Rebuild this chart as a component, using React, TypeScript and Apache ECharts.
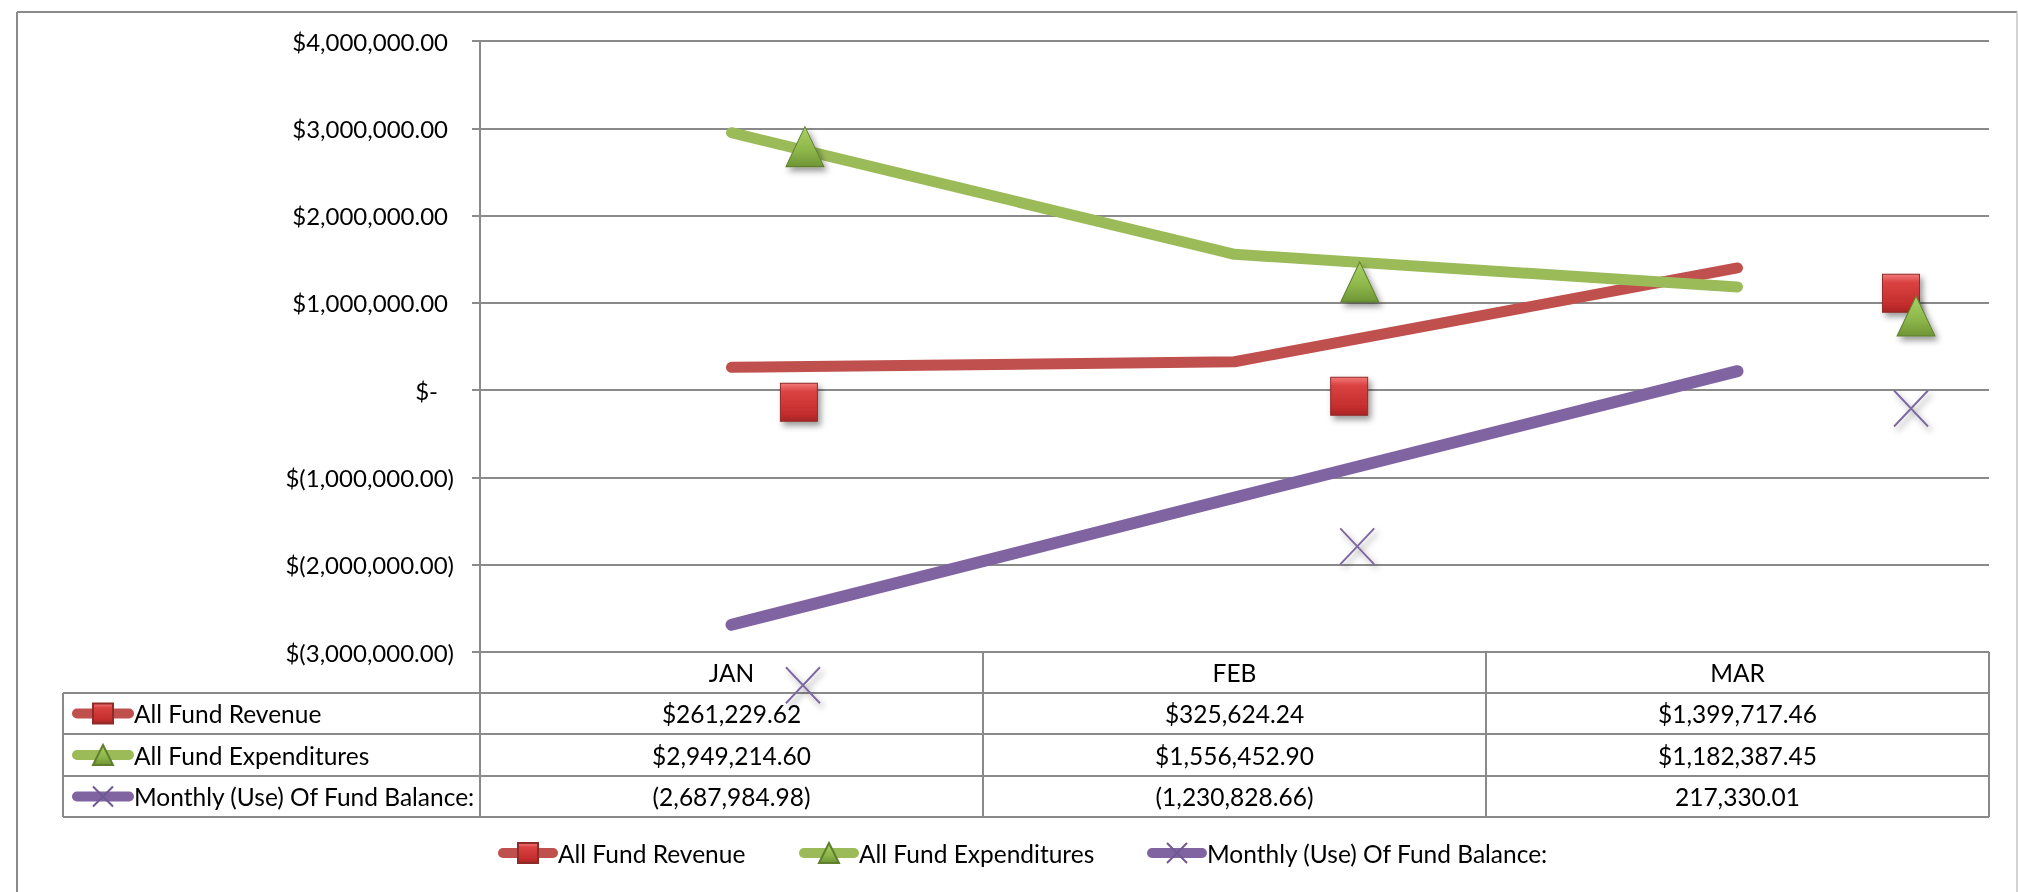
import React, { useEffect, useRef } from 'react';
import * as echarts from 'echarts';

// ---------- data ----------
const categories = ['JAN', 'FEB', 'MAR'];
const seriesNames = ['All Fund Revenue', 'All Fund Expenditures', 'Monthly (Use) Of Fund Balance:'];
const revenue = [261229.62, 325624.24, 1399717.46];
const expenditures = [2949214.6, 1556452.9, 1182387.45];
const balance = [-2687984.98, -1230828.66, 217330.01];

// y axis ticks
const yMin = -3000000;
const yMax = 4000000;
const yInterval = 1000000;

// markers as they appear in the picture (offset from the line vertices)
// x is in category units (0 = JAN centre, 1 = FEB centre, 2 = MAR centre)
const revMarkerX = [0.134, 1.228, 2.325];
const revMarkerY = [-140000, -70000, 1110000];
const expMarkerX = [0.146, 1.249, 2.355];
const expMarkerY = [2790000, 1240000, 850000];
const balMarkerX = [0.142, 1.244, 2.345];
const balMarkerY = [-3380000, -1790000, -210000];

// ---------- helpers ----------
const fmtNum = (n: number) => {
  const s = Math.abs(n).toFixed(2);
  const [i, d] = s.split('.');
  return i.replace(/\B(?=(\d{3})+(?!\d))/g, ',') + '.' + d;
};
const money = (n: number) => '$' + fmtNum(n);
const paren = (n: number) => (n < 0 ? '(' + fmtNum(n) + ')' : fmtNum(n));
const tableRows = [revenue.map(money), expenditures.map(money), balance.map(paren)];

const RED = '#C0504D';
const GREEN = '#9BBB59';
const PURPLE = '#8064A2';
const GRID = '#8A8A8A';
const FONT = 'Lato';
const FS = 24;
const FS_T = 24.5;

const redGrad = {
  type: 'linear', x: 0, y: 0, x2: 0, y2: 1,
  colorStops: [
    { offset: 0, color: '#F27A78' },
    { offset: 0.22, color: '#DA4242' },
    { offset: 0.8, color: '#C42D2D' },
    { offset: 1, color: '#A82424' },
  ],
};
const greenGrad = {
  type: 'linear', x: 0, y: 0, x2: 0, y2: 1,
  colorStops: [
    { offset: 0, color: '#A9D266' },
    { offset: 0.6, color: '#8DB64A' },
    { offset: 1, color: '#6F9536' },
  ],
};
const shadow = { shadowBlur: 6, shadowOffsetX: 3, shadowOffsetY: 4, shadowColor: 'rgba(0,0,0,0.4)' };

// layout
const GL = 480, GR = 29, GT = 41, GB = 240; // grid
const W = 2018;
const tableTop = 652;
const rowLines = [693, 734, 776, 817];
const tableLeft = 63;
const gridRight = W - GR;

export default function App() {
  const ref = useRef<HTMLDivElement>(null);
  useEffect(() => {
    if (!ref.current) return;
    const chart = echarts.init(ref.current, undefined, { renderer: 'svg' });
    const colW = (gridRight - GL) / categories.length;
    const lineEl = (x1: number, y1: number, x2: number, y2: number, color = GRID, w = 2) => ({
      type: 'line', silent: true, z: 1,
      shape: { x1, y1, x2, y2 },
      style: { stroke: color, lineWidth: w },
    });
    const graphics: any[] = [
      lineEl(17, 12, 2017, 12),
      lineEl(17, 12, 17, 892),
      lineEl(2017, 12, 2017, 892, '#C4C4C4', 1.5),
    ];
    rowLines.forEach((y) => graphics.push(lineEl(tableLeft, y, gridRight, y)));
    graphics.push(lineEl(tableLeft, rowLines[0], tableLeft, rowLines[3]));
    for (let i = 0; i <= categories.length; i++) {
      const x = GL + i * colW;
      graphics.push(lineEl(x, tableTop, x, rowLines[3]));
    }

    const labelCommon = { fontFamily: FONT, color: '#000', fontSize: FS_T };
    const catAxisBase = {
      type: 'category', position: 'bottom', boundaryGap: true,
      axisLine: { show: false, onZero: false }, axisTick: { show: false }, splitLine: { show: false },
    };
    const rowOffsets = [rowLines[0] - tableTop, rowLines[1] - tableTop, rowLines[2] - tableTop];

    const legendCommon = {
      padding: 0, itemHeight: 25, selectedMode: false,
      lineStyle: { width: 10, cap: 'round' },
      textStyle: { fontFamily: FONT, fontSize: FS_T, color: '#000', lineHeight: 25 },
    };

    chart.setOption({
      animation: false,
      textStyle: { fontFamily: FONT },
      grid: { left: GL, right: GR, top: GT, bottom: GB, containLabel: false },
      xAxis: [
        { ...catAxisBase, data: categories, axisLabel: { ...labelCommon, interval: 0, margin: 20.5, verticalAlign: 'middle' } },
        { type: 'value', min: -0.5, max: 2.5, show: false, axisLine: { show: false, onZero: false } },
        ...tableRows.map((r, i) => ({
          ...catAxisBase, data: r, offset: rowOffsets[i],
          axisLabel: { ...labelCommon, interval: 0, margin: i === 1 ? 21 : 20.5, verticalAlign: 'middle' },
        })),
      ],
      yAxis: {
        type: 'value', min: yMin, max: yMax, interval: yInterval,
        axisLine: { show: true, onZero: false, lineStyle: { color: GRID, width: 2 } },
        axisTick: { show: true, length: 8, lineStyle: { color: GRID, width: 2 } },
        splitLine: { show: true, lineStyle: { color: GRID, width: 2 } },
        axisLabel: {
          margin: 26, color: '#000', fontFamily: FONT, fontSize: FS,
          formatter: (v: number) => (v > 0 ? '{p|' + money(v) + '}' : v < 0 ? '{n|$(' + fmtNum(v) + ')}' : '{z|$-}'),
          rich: {
            p: { padding: [0, 6, 0, 0], fontSize: FS, fontFamily: FONT, color: '#000' },
            n: { fontSize: FS, fontFamily: FONT, color: '#000' },
            z: { padding: [0, 16, 0, 0], fontSize: FS, fontFamily: FONT, color: '#000' },
          },
        },
      },
      legend: [
        { ...legendCommon, data: seriesNames, orient: 'vertical', left: 72, top: 701, itemWidth: 52, itemGap: 16.5 },
        { ...legendCommon, data: [seriesNames[0]], left: 498, top: 840.5, itemWidth: 50 },
        { ...legendCommon, data: [seriesNames[1]], left: 799, top: 840.5, itemWidth: 50 },
        { ...legendCommon, data: [seriesNames[2]], left: 1147, top: 840.5, itemWidth: 50 },
      ],
      series: [
        {
          name: seriesNames[0], type: 'line', data: revenue, xAxisIndex: 0, yAxisIndex: 0,
          symbol: 'rect', showSymbol: false, z: 2,
          lineStyle: { color: RED, width: 11, cap: 'round', join: 'round' },
          itemStyle: { color: redGrad, borderColor: '#8E2B29', borderWidth: 1 },
        },
        {
          name: seriesNames[1], type: 'line', data: expenditures, xAxisIndex: 0, yAxisIndex: 0,
          symbol: 'triangle', showSymbol: false, z: 2,
          lineStyle: { color: GREEN, width: 11, cap: 'round', join: 'round' },
          itemStyle: { color: greenGrad, borderColor: '#5F7F2E', borderWidth: 1 },
        },
        {
          name: seriesNames[2], type: 'line', data: balance, xAxisIndex: 0, yAxisIndex: 0,
          symbol: 'path://M0,0L10,10M10,0L0,10', showSymbol: false, z: 2,
          lineStyle: { color: PURPLE, width: 12, cap: 'round', join: 'round' },
          itemStyle: { color: 'rgba(0,0,0,0)', borderColor: '#6F5893', borderWidth: 1.2 },
        },
        {
          name: 'rev-marker', type: 'scatter', xAxisIndex: 1, yAxisIndex: 0, clip: false, z: 5,
          data: revMarkerX.map((x, i) => [x, revMarkerY[i]]),
          symbol: 'rect', symbolSize: [37, 38],
          itemStyle: { color: redGrad, borderColor: '#8E2B29', borderWidth: 1, opacity: 1, ...shadow },
        },
        {
          name: 'exp-marker', type: 'scatter', xAxisIndex: 1, yAxisIndex: 0, clip: false, z: 6,
          data: expMarkerX.map((x, i) => [x, expMarkerY[i]]),
          symbol: 'triangle', symbolSize: [38, 40],
          itemStyle: { color: greenGrad, borderColor: '#5F7F2E', borderWidth: 1, opacity: 1, ...shadow },
        },
        {
          name: 'bal-marker', type: 'scatter', xAxisIndex: 1, yAxisIndex: 0, clip: false, z: 6,
          data: balMarkerX.map((x, i) => [x, balMarkerY[i]]),
          symbol: 'path://M0,0L10,10M10,0L0,10', symbolSize: [34, 36],
          itemStyle: { color: 'rgba(0,0,0,0)', borderColor: '#7D67A1', borderWidth: 2, opacity: 1, ...shadow },
        },
      ],
      graphic: graphics,
    });
    return () => chart.dispose();
  }, []);
  return <div ref={ref} style={{ position: 'fixed', left: 0, top: 0, width: 2018, height: 892 }} />;
}
